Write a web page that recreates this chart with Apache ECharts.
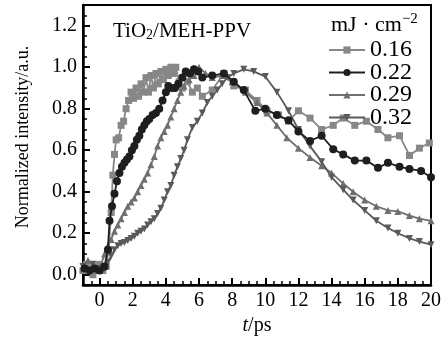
<!DOCTYPE html>
<html><head><meta charset="utf-8">
<script src="https://cdn.jsdelivr.net/npm/echarts@6/dist/echarts.min.js"></script>
<style>html,body{margin:0;padding:0;background:#fff}#c{width:444px;height:341px}</style>
</head><body><div id="c"></div>
<script>
const seriesNames = ['0.16', '0.22', '0.29', '0.32'];
const xTickLabels = [0, 2, 4, 6, 8, 10, 12, 14, 16, 18, 20];
const yTickLabels = [0, 0.2, 0.4, 0.6, 0.8, 1.0, 1.2];

const t016 = [-1.0,-0.8,-0.6,-0.4,-0.2,0.0,0.2,0.4,0.55,0.7,0.8,0.9,1.0,1.15,1.3,1.45,1.6,1.75,1.9,2.05,2.2,2.35,2.5,2.65,2.8,2.95,3.1,3.25,3.4,3.55,3.7,3.85,4.0,4.15,4.3,4.45,4.6,4.8,5.0,5.3,5.6,5.9,6.2,6.8,7.5,8.1,8.8,9.5,10.1,10.8,11.4,12.0,12.7,13.4,14.1,14.7,15.4,16.1,16.8,17.4,18.1,18.7,19.3,19.9];
const y016 = [0.02,0.05,0.03,0.0,0.04,0.05,0.02,0.04,0.12,0.3,0.48,0.58,0.65,0.66,0.72,0.74,0.80,0.84,0.88,0.85,0.90,0.86,0.92,0.88,0.95,0.88,0.96,0.90,0.97,0.92,0.98,0.94,0.99,0.96,1.0,0.97,1.0,0.93,0.90,0.93,0.88,0.90,0.86,0.89,0.97,0.91,0.89,0.84,0.79,0.77,0.74,0.79,0.755,0.70,0.72,0.755,0.72,0.74,0.70,0.66,0.67,0.575,0.61,0.635];

const t022 = [-0.9,-0.6,-0.3,0.0,0.3,0.5,0.6,0.75,0.9,1.05,1.2,1.35,1.5,1.65,1.8,1.95,2.1,2.25,2.4,2.55,2.7,2.85,3.0,3.2,3.4,3.6,3.8,4.0,4.15,4.35,4.55,4.75,5.0,5.2,5.45,5.7,5.95,6.2,6.8,7.5,8.1,8.7,9.4,10.0,10.7,11.4,12.0,12.7,13.4,14.1,14.7,15.4,16.1,16.8,17.4,18.1,18.7,19.4,20.0];
const y022 = [0.03,0.02,0.03,0.02,0.04,0.12,0.26,0.33,0.39,0.45,0.49,0.52,0.54,0.555,0.57,0.60,0.62,0.65,0.67,0.70,0.72,0.74,0.75,0.77,0.78,0.80,0.84,0.88,0.91,0.90,0.90,0.92,0.95,0.98,0.97,0.99,0.98,0.95,0.96,0.97,0.93,0.89,0.79,0.80,0.77,0.745,0.69,0.645,0.67,0.605,0.58,0.55,0.55,0.515,0.54,0.52,0.51,0.50,0.47];

const t029 = [-1.0,-0.7,-0.4,-0.1,0.1,0.3,0.5,0.7,0.9,1.1,1.3,1.5,1.7,1.9,2.1,2.3,2.5,2.7,2.9,3.1,3.3,3.5,3.7,3.9,4.1,4.3,4.5,4.7,4.9,5.1,5.4,5.7,6.0,6.4,6.8,7.4,8.0,8.8,9.5,10.1,10.7,11.3,12.0,12.7,13.4,14.0,14.7,15.3,16.0,16.7,17.4,18.0,18.7,19.3,20.0];
const y029 = [0.03,0.07,0.04,0.02,0.05,0.10,0.14,0.17,0.21,0.24,0.27,0.30,0.33,0.35,0.37,0.40,0.43,0.46,0.49,0.53,0.57,0.62,0.66,0.69,0.72,0.76,0.80,0.84,0.88,0.91,0.94,0.96,1.0,0.97,0.95,0.96,0.93,0.88,0.83,0.78,0.72,0.66,0.61,0.565,0.525,0.49,0.44,0.40,0.36,0.33,0.31,0.305,0.285,0.27,0.26];

const t032 = [-1.0,-0.7,-0.4,-0.1,0.1,0.3,0.5,0.7,0.9,1.1,1.3,1.5,1.7,1.9,2.1,2.3,2.5,2.7,2.9,3.1,3.3,3.5,3.7,3.9,4.1,4.3,4.5,4.7,4.9,5.1,5.3,5.6,5.9,6.2,6.5,6.8,7.1,7.4,7.7,8.1,8.7,9.3,10.0,10.7,11.4,12.0,12.7,13.4,14.0,14.7,15.3,16.0,16.7,17.4,18.0,18.7,19.3,20.0];
const y032 = [0.04,0.02,0.05,0.03,0.02,0.03,0.06,0.09,0.12,0.14,0.15,0.155,0.165,0.175,0.185,0.20,0.21,0.22,0.24,0.255,0.27,0.295,0.32,0.36,0.40,0.43,0.48,0.52,0.56,0.60,0.65,0.71,0.74,0.78,0.83,0.86,0.89,0.92,0.95,0.97,0.99,0.98,0.955,0.88,0.79,0.70,0.62,0.545,0.47,0.41,0.36,0.31,0.26,0.225,0.20,0.175,0.16,0.145];

const times = [t016, t022, t029, t032];
const values = [y016, y022, y029, y032];
const colors = ['#878787', '#1e1e1e', '#6f6f6f', '#5a5a5a'];
const symbols = ['rect', 'circle', 'triangle', 'path://M0,0 L10,0 L5,9 Z'];
const symbolSizes = [7, 8, 7, 7];

const serif = '"Liberation Serif", "Times New Roman", serif';
const chart = echarts.init(document.getElementById('c'), null, {renderer: 'canvas'});

const series = seriesNames.map((name, i) => ({
  name: name,
  type: 'line',
  xAxisIndex: 0, yAxisIndex: 0,
  data: times[i].map((t, k) => [t, values[i][k]]),
  symbol: symbols[i],
  symbolSize: symbolSizes[i],
  showAllSymbol: true,
  lineStyle: {color: colors[i], width: 1.8},
  itemStyle: {color: colors[i], borderWidth: 0},
  z: i === 1 ? 5 : 3,
  animation: false
}));

chart.setOption({
  animation: false,
  grid: {left: 83, right: 11, top: 5, bottom: 51, show: true, borderColor: '#000', borderWidth: 2},
  xAxis: [{
    type: 'value', min: -1, max: 20,
    axisLine: {show: true, onZero: false, lineStyle: {color: '#000', width: 2.5}},
    axisTick: {show: true, inside: true, length: 7, customValues: xTickLabels, lineStyle: {color: '#000', width: 2}},
    axisLabel: {customValues: xTickLabels, margin: 6, color: '#000', fontFamily: serif, fontSize: 20},
    splitLine: {show: false},
    name: '{i|t}/ps', nameLocation: 'middle', nameGap: 26,
    nameTextStyle: {color: '#000', fontFamily: serif, fontSize: 20, rich: {i: {fontStyle: 'italic', fontFamily: serif, fontSize: 20, color: '#000'}}}
  }, {
    type: 'value', min: -1, max: 20, interval: 0.5, position: 'bottom',
    axisLine: {show: false, onZero: false},
    axisTick: {show: true, inside: true, length: 4, lineStyle: {color: '#000', width: 1.5}},
    axisLabel: {show: false}, splitLine: {show: false}
  }],
  yAxis: [{
    type: 'value', min: -0.05, max: 1.3,
    axisLine: {show: true, onZero: false, lineStyle: {color: '#000', width: 2.5}},
    axisTick: {show: true, inside: true, length: 7, customValues: yTickLabels, lineStyle: {color: '#000', width: 2}},
    axisLabel: {customValues: yTickLabels, margin: 6, color: '#000', fontFamily: serif, fontSize: 20,
      formatter: v => v.toFixed(1)},
    splitLine: {show: false}
  }, {
    type: 'value', min: -0.05, max: 1.3, interval: 0.05, position: 'left',
    axisLine: {show: false, onZero: false},
    axisTick: {show: true, inside: true, length: 4, lineStyle: {color: '#000', width: 1.5}},
    axisLabel: {show: false}, splitLine: {show: false}
  }],
  legend: {
    orient: 'vertical', left: 323, top: 33,
    itemWidth: 36, itemHeight: 9, itemGap: -1.5,
    data: seriesNames,
    textStyle: {color: '#000', fontFamily: serif, fontSize: 24, padding: [0, 0, 0, 0]}
  },
  graphic: [{
    type: 'text', left: 113, top: 21,
    style: {text: 'TiO{sub|2}/MEH-PPV', fill: '#000', font: '21px ' + serif,
      rich: {sub: {fontSize: 14, fontFamily: serif, fill: '#000', verticalAlign: 'bottom', padding: [8, 0, 0, 0]}}}
  }, {
    type: 'text', left: 331, top: 12,
    style: {text: 'mJ · cm{sup|−2}', fill: '#000', font: '22px ' + serif,
      rich: {sup: {fontSize: 15, fontFamily: serif, fill: '#000', padding: [0, 0, 11, 0]}}}
  }, {
    type: 'text', x: 23, y: 137, rotation: Math.PI / 2,
    style: {text: 'Normalized intensity/a.u.', fill: '#000', font: '18px ' + serif, align: 'center', verticalAlign: 'middle'}
  }],
  series: series
});
</script>
</body></html>
